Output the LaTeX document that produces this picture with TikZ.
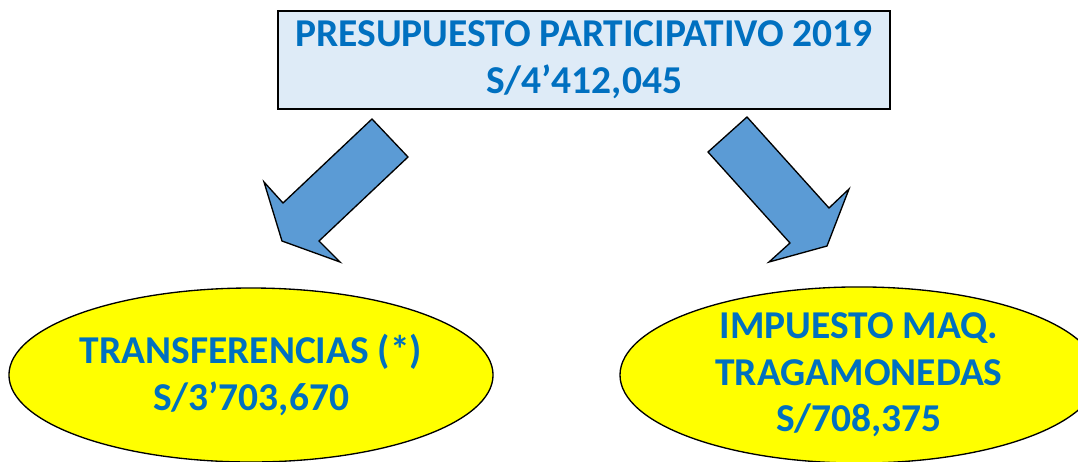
\documentclass[tikz,border=0pt]{standalone}
\usepackage{fontspec}
\setmainfont{Carlito}
\usetikzlibrary{shapes.geometric}

\definecolor{titleblue}{HTML}{0070C0}
\definecolor{boxfill}{HTML}{DEEBF7}
\definecolor{arrowfill}{HTML}{5B9BD5}
\definecolor{ovalfill}{HTML}{FFFF00}

\begin{document}
\begin{tikzpicture}[x = 0.75pt, y = -0.75pt,
                   every node/.style = {draw           = black,
                                        line width     = 1pt,
                                        align          = center,
                                        inner sep      = 0pt,
                                        text           = titleblue,
                                        font           = \fontsize{29.6}{35}\selectfont\bfseries},
                   top box/.style    = {shape          = rectangle,
                                        fill           = boxfill,
                                        minimum width  = 459pt,
                                        minimum height = 73.5pt},
                   yellow oval/.style = {shape         = ellipse,
                                        fill           = ovalfill,
                                        minimum width  = 358.5pt,
                                        minimum height = 130.5pt},
                   blue arrow/.style = {fill           = arrowfill,
                                        draw           = black,
                                        line width     = 1pt,
                                        line join      = miter}]

\useasboundingbox (0,0) rectangle (1078,461);

% the nodes
\node[top box](total) at (584, 60) {PRESUPUESTO PARTICIPATIVO 2019\\
                                    S/4’412,045};
  \node[yellow oval](transf) at (251,375) {TRANSFERENCIAS (*)\\
                                           S/3’703,670};
  \node[yellow oval](maq)    at (859,375) {IMPUESTO MAQ.\\
                                           TRAGAMONEDAS\\
                                           S/708,375};

% block arrows
\draw[blue arrow] (372,119) -- (408,157) -- (319,241) -- (340,262)
                  -- (282,241) -- (264,182) -- (283,203) -- cycle;
\draw[blue arrow] (747,117) -- (708,152) -- (790,243) -- (769,262)
                  -- (827,246) -- (849,189) -- (829,208) -- cycle;
\end{tikzpicture}
\end{document}
